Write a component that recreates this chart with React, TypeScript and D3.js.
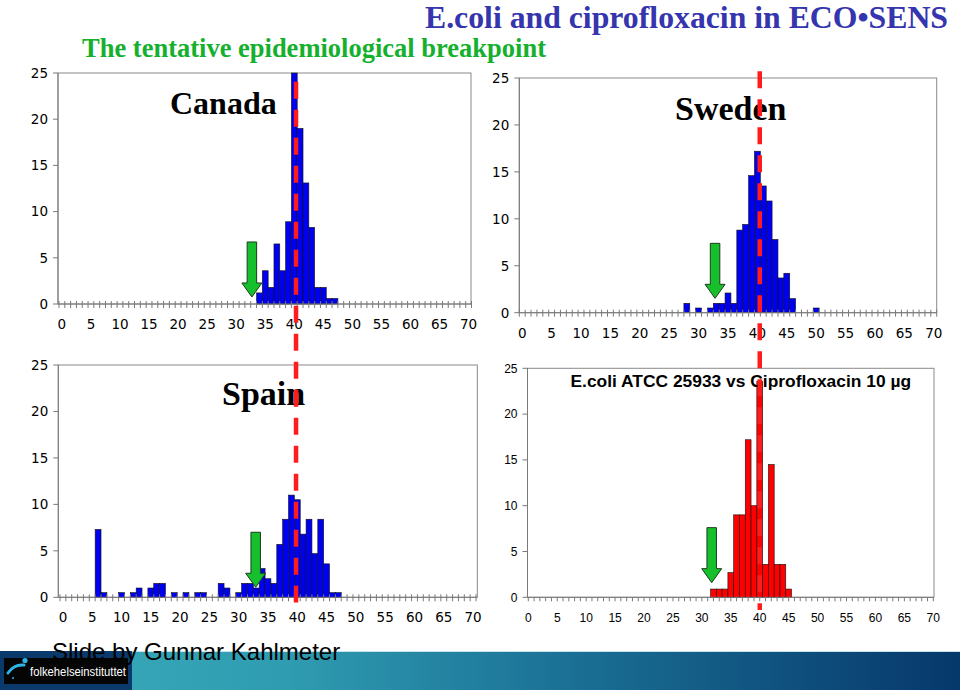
import React from 'react';
import * as d3 from 'd3';

// ---------- data ----------
const xTickLabels = [0, 5, 10, 15, 20, 25, 30, 35, 40, 45, 50, 55, 60, 65, 70];
const yTickLabels = [0, 5, 10, 15, 20, 25];

const canadaZone = [34, 35, 36, 37, 38, 39, 40, 41, 42, 43, 44, 45, 46, 47];
const canadaPct = [1.2, 3.6, 1.8, 6.5, 3.6, 8.9, 29.2, 19.0, 13.1, 8.3, 1.8, 1.8, 0.6, 0.6];

const swedenZone = [28, 30, 32, 33, 34, 35, 36, 37, 38, 39, 40, 41, 42, 43, 44, 45, 46, 50];
const swedenPct = [1.0, 0.5, 0.5, 1.0, 1.0, 2.1, 1.0, 8.8, 9.4, 14.6, 17.2, 13.5, 11.9, 7.8, 3.7, 4.2, 1.5, 0.5];

const spainZone = [6, 7, 10, 12, 13, 15, 16, 17, 19, 21, 23, 24, 27, 28, 30, 31, 32, 33, 34, 35, 36, 37, 38, 39, 40, 41, 42, 43, 44, 45, 46, 47];
const spainPct = [7.3, 0.5, 0.5, 0.5, 1.0, 1.0, 1.5, 1.5, 0.5, 0.5, 0.5, 0.5, 1.5, 1.0, 0.5, 1.5, 1.5, 1.0, 3.1, 2.0, 1.5, 5.7, 8.4, 11.0, 10.5, 6.8, 8.4, 4.7, 8.4, 3.6, 0.5, 0.5];

const atccZone = [32, 33, 34, 35, 36, 37, 38, 39, 40, 41, 42, 43, 44, 45];
const atccPct = [0.9, 0.9, 0.9, 2.7, 9.0, 9.0, 17.2, 10.0, 23.6, 3.6, 14.5, 3.6, 3.6, 0.9];

const mainTitle = 'E.coli and ciprofloxacin in ECO\u2022SENS';
const subTitle = 'The tentative epidemiological breakpoint';
const panelNames = ['Canada', 'Sweden', 'Spain'];
const atccTitle = 'E.coli ATCC 25933 vs Ciprofloxacin 10 \u00b5g';
const credit = 'Slide by Gunnar Kahlmeter';
const logoText = 'folkehelseinstituttet';

// breakpoint (red dashed) lines: zone value in Canada scale and Sweden scale
const breakpointZone = [40.3, 40.4];
// green arrows: zone value and tip height (%) per panel: canada, sweden, spain, atcc
const arrowZone = [32.7, 32.8, 32.9, 31.7];
const arrowTip = [0.76, 1.53, 1.08, 1.6];

// ---------- layout ----------
type Cfg = {
  x0: number; x1: number; y0: number; y1: number;
  r0: number; r1: number; domain: [number, number]; excel: boolean;
};

const cfgCanada: Cfg = { x0: 58, x1: 471, y0: 73, y1: 304, r0: 59, r1: 471.5, domain: [-0.5, 70.5], excel: true };
const cfgSweden: Cfg = { x0: 519.3, x1: 936.7, y0: 78, y1: 312.7, r0: 519.3, r1: 936.7, domain: [-0.5, 70.5], excel: true };
const cfgSpain: Cfg = { x0: 58.3, x1: 477.3, y0: 365, y1: 597.3, r0: 60, r1: 476, domain: [-0.5, 70.5], excel: true };
const cfgAtcc: Cfg = { x0: 527.5, x1: 934, y0: 368.3, y1: 597.3, r0: 528.3, r1: 933.3, domain: [0, 70], excel: false };

function scales(c: Cfg) {
  const x = d3.scaleLinear().domain(c.domain).range([c.r0, c.r1]);
  const y = d3.scaleLinear().domain([0, 25]).range([c.y1, c.y0]);
  return { x, y };
}

const VERDANA = '"DejaVu Sans", Verdana, sans-serif';
const ARIAL = '"Liberation Sans", Arial, sans-serif';
const SERIF = '"Liberation Serif", "Times New Roman", serif';

function Panel({ c, zones, pct, color, font, fontSize }: {
  c: Cfg; zones: number[]; pct: number[]; color: string; font: string; fontSize: number;
}) {
  const { x, y } = scales(c);
  const bw = x(1) - x(0);
  const minor = c.excel ? d3.range(0, 72).map((k) => k - 0.5) : d3.range(0, 71);
  const axisCol = '#7a7a7a';
  return (
    <g>
      <rect x={c.x0} y={c.y0} width={c.x1 - c.x0} height={c.y1 - c.y0} fill="#fff" stroke="#8a8a8a" strokeWidth={1} />
      {zones.map((z, i) => {
        const v = Math.min(pct[i], 25);
        return (
          <rect key={i} x={x(z - 0.5)} y={y(v)} width={bw} height={y(0) - y(v)}
            fill={color} stroke="#111" strokeWidth={0.6} />
        );
      })}
      <line x1={c.x0} x2={c.x1} y1={c.y1} y2={c.y1} stroke={axisCol} strokeWidth={1} />
      <line x1={c.x0} x2={c.x0} y1={c.y0} y2={c.y1} stroke={axisCol} strokeWidth={1} />
      {minor.map((t, i) => (
        <line key={i} x1={x(t)} x2={x(t)} y1={c.excel ? c.y1 - 3 : c.y1} y2={c.y1 + 4} stroke={axisCol} strokeWidth={1} />
      ))}
      {yTickLabels.map((t) => (
        <g key={t}>
          <line x1={c.x0 - 5} x2={c.x0} y1={y(t)} y2={y(t)} stroke={axisCol} strokeWidth={1} />
          <text x={c.x0 - 10} y={y(t)} dy="0.36em" textAnchor="end" fontFamily={font} fontSize={fontSize} fill="#000">{t}</text>
        </g>
      ))}
      {xTickLabels.map((t) => (
        <text key={t} x={x(t)} y={c.y1 + 25} textAnchor="middle" fontFamily={font} fontSize={fontSize} fill="#000">{t}</text>
      ))}
    </g>
  );
}

function Arrow({ tx, ty }: { tx: number; ty: number }) {
  const len = 55, shaft = 9.5, head = 20, headH = 14;
  const top = ty - len;
  const hb = ty - headH;
  const d = [
    [tx - shaft / 2, top], [tx + shaft / 2, top], [tx + shaft / 2, hb], [tx + head / 2, hb],
    [tx, ty], [tx - head / 2, hb], [tx - shaft / 2, hb],
  ].map((p, i) => (i === 0 ? 'M' : 'L') + p[0] + ',' + p[1]).join(' ') + ' Z';
  return <path d={d} fill="#16c02c" stroke="#1c3b1c" strokeWidth={1} strokeLinejoin="miter" />;
}

export default function App() {
  const sc = scales(cfgCanada);
  const ss = scales(cfgSweden);
  const sp = scales(cfgSpain);
  const sa = scales(cfgAtcc);
  const arrowScales = [sc, ss, sp, sa];
  const redX1 = sc.x(breakpointZone[0]);
  const redX2 = ss.x(breakpointZone[1]);

  return (
    <svg width={960} height={690} viewBox="0 0 960 690"
      style={{ position: 'absolute', left: 0, top: 0, background: '#fff' }}>
      <defs>
        <linearGradient id="band" x1="0" x2="1" y1="0" y2="0">
          <stop offset="0" stopColor="#3aadbb" />
          <stop offset="0.3" stopColor="#2f9cb1" />
          <stop offset="0.6" stopColor="#1a6f95" />
          <stop offset="1" stopColor="#06386b" />
        </linearGradient>
      </defs>
      <rect x={0} y={0} width={960} height={690} fill="#fff" />

      <Panel c={cfgCanada} zones={canadaZone} pct={canadaPct} color="#0000f0" font={VERDANA} fontSize={13.5} />
      <Panel c={cfgSweden} zones={swedenZone} pct={swedenPct} color="#0000f0" font={VERDANA} fontSize={13.5} />
      <Panel c={cfgSpain} zones={spainZone} pct={spainPct} color="#0000f0" font={VERDANA} fontSize={13.5} />
      <Panel c={cfgAtcc} zones={atccZone} pct={atccPct} color="#ff0000" font={ARIAL} fontSize={12} />

      {/* titles */}
      <text x={425} y={27.5} textLength={523} lengthAdjust="spacingAndGlyphs" fontFamily={SERIF} fontWeight="bold" fontSize={30.5} fill="#3535ad">{mainTitle}</text>
      <text x={82} y={57} fontFamily={SERIF} fontWeight="bold" fontSize={26.5} fill="#14b02e">{subTitle}</text>
      <text x={170} y={113.5} fontFamily={SERIF} fontWeight="bold" fontSize={32} fill="#000">{panelNames[0]}</text>
      <text x={675} y={119.5} fontFamily={SERIF} fontWeight="bold" fontSize={34} fill="#000">{panelNames[1]}</text>
      <text x={222} y={404.5} fontFamily={SERIF} fontWeight="bold" fontSize={34} fill="#000">{panelNames[2]}</text>
      <text x={570.5} y={387.3} fontFamily={ARIAL} fontWeight="bold" fontSize={17.4} fill="#000">{atccTitle}</text>

      {/* arrows */}
      {arrowScales.map((s, i) => (
        <Arrow key={i} tx={s.x(arrowZone[i])} ty={s.y(arrowTip[i])} />
      ))}

      {/* breakpoint lines */}
      <line x1={redX1} x2={redX1} y1={81.7} y2={602.5} stroke="#ff1c1c" strokeWidth={4.5} strokeDasharray="17 11" />
      <line x1={redX2} x2={redX2} y1={71.3} y2={610} stroke="#ff1c1c" strokeWidth={4.5} strokeDasharray="17 11" />

      {/* bottom band */}
      <rect x={0} y={651} width={960} height={39} fill="url(#band)" />
      <rect x={0} y={651} width={132} height={39} fill="#0a3a6c" />
      <line x1={132} x2={960} y1={651.5} y2={651.5} stroke="#c8e4ea" strokeWidth={1} />
      <rect x={4} y={658} width={124} height={26} fill="#050505" />
      <path d="M8,673 Q14,664 24,665" fill="none" stroke="#2cb4e6" strokeWidth={3} strokeLinecap="round" />
      <circle cx={25} cy={660.5} r={2.6} fill="#2cb4e6" />
      <circle cx={13} cy={678} r={1} fill="#2cb4e6" />
      <text x={30} y={675.5} fontFamily={ARIAL} fontSize={12} fill="#fff" textLength={96} lengthAdjust="spacingAndGlyphs">{logoText}</text>
      <text x={52} y={660} fontFamily={ARIAL} fontSize={24} fill="#000">{credit}</text>
    </svg>
  );
}
